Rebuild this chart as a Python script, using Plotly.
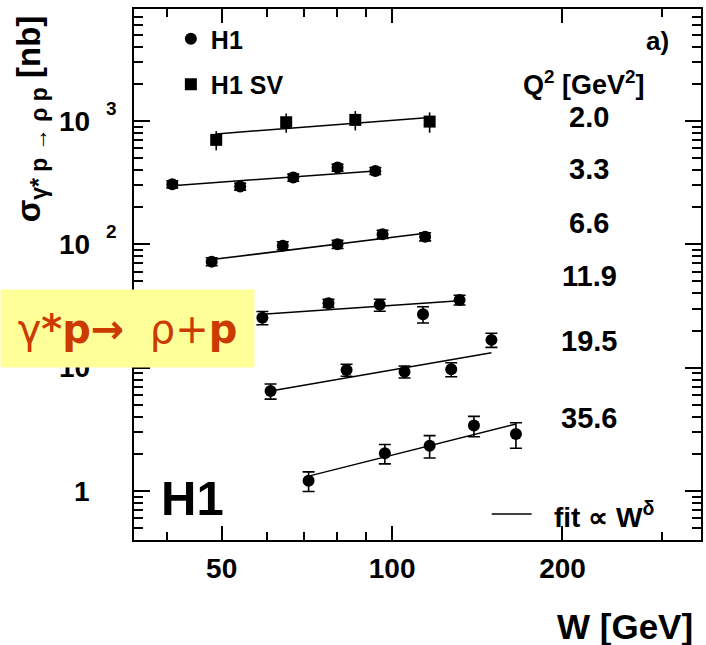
import math
import plotly.graph_objects as go

# Q^2 bins [GeV^2] and the labels printed next to each group
q2_labels = ["2.0", "3.3", "6.6", "11.9", "19.5", "35.6"]

# H1 SV, Q^2 = 2.0 GeV^2
w_sv = [48.9, 65.0, 86.1, 116.5]
sig_sv = [703, 977, 1021, 989]
err_sv = [125, 174, 182, 186]

# H1, Q^2 = 3.3 GeV^2
w_33 = [40.9, 53.9, 66.9, 80.1, 93.4]
sig_33 = [307, 294, 348, 419, 394]
err_33 = [20, 19, 23, 27, 26]

# H1, Q^2 = 6.6 GeV^2
w_66 = [48.0, 64.1, 80.1, 96.2, 114.4]
sig_66 = [72.4, 97.6, 100.1, 120.8, 115.4]
err_66 = [5.4, 7.3, 7.5, 9.1, 8.7]

# H1, Q^2 = 11.9 GeV^2
w_119 = [59.0, 77.2, 95.1, 113.4, 131.6]
sig_119 = [25.4, 33.3, 32.3, 27.1, 35.4]
err_119 = [3.1, 2.5, 3.6, 4.1, 3.2]

# H1, Q^2 = 19.5 GeV^2
w_195 = [61.0, 83.1, 105.2, 127.2, 149.8]
sig_195 = [6.47, 9.58, 9.28, 9.70, 16.8]
err_195 = [0.91, 1.07, 1.04, 1.27, 2.2]

# H1, Q^2 = 35.6 GeV^2
w_356 = [71.2, 97.1, 116.5, 139.5, 165.5]
sig_356 = [1.21, 2.02, 2.33, 3.39, 2.90]
err_356 = [0.22, 0.36, 0.48, 0.64, 0.68]

# fits sigma ~ W^delta: fitted value at the first and last W of each bin
fit_sv = [786, 1066]
fit_33 = [299, 394]
fit_66 = [75.2, 123]
fit_119 = [27.1, 34.8]
fit_195 = [6.47, 13.2]
fit_356 = [1.32, 3.49]

# axis ticks
x_tick_vals = [50, 100, 200]
x_tick_text = ["50", "100", "200"]
x_minor_vals = [40, 60, 70, 80, 90, 300]
y_tick_vals = [1, 10, 100, 1000]
y_tick_base = ["1", "10", "10", "10"]
y_tick_exp = ["", "", "2", "3"]

FONT = "Liberation Sans"
BOX_FONT = "DejaVu Sans"

# plot-area geometry in pixels (used to place the free text)
L, R, T, B = 134, 703, 9, 540


def px(x):
    return (x - L) / (R - L)


def py(y):
    return (B - y) / (B - T)


def bold(size):
    return dict(family=FONT, size=size, color="black", weight="bold")


fig = go.Figure()

h1_sets = [(w_33, sig_33, err_33, fit_33), (w_66, sig_66, err_66, fit_66),
           (w_119, sig_119, err_119, fit_119), (w_195, sig_195, err_195, fit_195),
           (w_356, sig_356, err_356, fit_356)]

# fit lines
for w, s, e, f in [(w_sv, sig_sv, err_sv, fit_sv)] + h1_sets:
    fig.add_trace(go.Scatter(
        x=[w[0], w[-1]], y=f, mode="lines",
        line=dict(color="black", width=1.5),
        showlegend=False, hoverinfo="skip"))

# H1 points
for i, (w, s, e, f) in enumerate(h1_sets):
    fig.add_trace(go.Scatter(
        x=w, y=s, mode="markers", name="H1",
        legendgroup="h1", showlegend=(i == 0), legendrank=1,
        marker=dict(symbol="circle", size=12, color="black"),
        error_y=dict(type="data", array=e, color="black", thickness=1.6, width=6)))

# H1 SV points
fig.add_trace(go.Scatter(
    x=w_sv, y=sig_sv, mode="markers", name="H1 SV",
    legendgroup="sv", legendrank=2,
    marker=dict(symbol="square", size=12, color="black"),
    error_y=dict(type="data", array=err_sv, color="black", thickness=1.6, width=0)))

y_minor = [m * 10 ** k for k in range(-1, 4) for m in range(2, 10)]

axis_common = dict(
    showline=True, linewidth=2, linecolor="black", mirror="allticks",
    showgrid=False, zeroline=False, ticks="inside", tickwidth=2, tickcolor="black",
)

fig.update_xaxes(
    type="log", range=[1.54405, 2.54573],
    tickmode="array", tickvals=x_tick_vals, ticktext=x_tick_text, ticklen=14,
    tickfont=bold(28), ticklabelstandoff=2,
    minor=dict(tickmode="array", tickvals=x_minor_vals, ticks="inside",
               ticklen=8, tickwidth=2, tickcolor="black", showgrid=False),
    **axis_common)

fig.update_yaxes(
    type="log", range=[-0.3973, 3.9081],
    tickmode="array", tickvals=y_tick_vals, ticklen=16, showticklabels=False,
    minor=dict(tickmode="array", tickvals=y_minor, ticks="inside",
               ticklen=9, tickwidth=2, tickcolor="black", showgrid=False),
    **axis_common)

ann = []

# y tick labels: base right-aligned, exponent hanging to the right
for v, b, e in zip(y_tick_vals, y_tick_base, y_tick_exp):
    ann.append(dict(xref="paper", yref="y", x=px(92), y=math.log10(v), text=b,
                    xanchor="right", yanchor="middle", showarrow=False, font=bold(28)))
    if e:
        ann.append(dict(xref="paper", yref="y", x=px(104), y=math.log10(v), text=e,
                        xanchor="left", yanchor="middle", yshift=13, showarrow=False,
                        font=bold(19)))

# Q^2 header and bin labels
ann.append(dict(xref="paper", yref="paper", x=px(586), y=py(83),
                text="Q<sup>2</sup> [GeV<sup>2</sup>]", showarrow=False,
                xanchor="center", yanchor="middle", font=bold(27)))
label_y = [117, 169, 223, 276, 341, 418]
for lab, yy in zip(q2_labels, label_y):
    ann.append(dict(xref="paper", yref="paper", x=px(591), y=py(yy), text=lab,
                    showarrow=False, xanchor="center", yanchor="middle", font=bold(29)))

ann.append(dict(xref="paper", yref="paper", x=px(673), y=py(41), text="a)",
                showarrow=False, xanchor="right", yanchor="middle", font=bold(26)))

# experiment logo
ann.append(dict(xref="paper", yref="paper", x=px(193), y=py(498), text="H1",
                showarrow=False, xanchor="center", yanchor="middle", font=bold(49)))

# fit key
ann.append(dict(xref="paper", yref="paper", x=px(553), y=py(515),
                text="fit \u221d W<sup>\u03b4</sup>", showarrow=False,
                xanchor="left", yanchor="middle", font=bold(28)))

# axis titles
ann.append(dict(xref="paper", yref="paper", x=px(697), y=py(626), text="W [GeV]",
                showarrow=False, xanchor="right", yanchor="middle", font=bold(35)))
ann.append(dict(xref="paper", yref="paper", x=px(31), y=py(119),
                text=("\u03c3<sub><span style='font-size:23px'>\u03b3* p \u2192 \u03c1 p"
                      "</span></sub> [nb]"),
                textangle=-90, showarrow=False, xanchor="center", yanchor="middle",
                font=bold(33)))

# process box
ann.append(dict(xref="paper", yref="paper", x=px(0), y=py(289), xanchor="left", yanchor="top",
                text="\u03b3<b>*p\u2192</b>  \u03c1+<b>p</b>", showarrow=False,
                width=253, height=77, borderpad=0, bgcolor="#FFFF99", align="center",
                valign="middle", font=dict(family=BOX_FONT, size=40, color="#CC3A00")))

fig.update_layout(
    width=706, height=645,
    margin=dict(l=L, r=706 - R, t=T, b=645 - B),
    paper_bgcolor="white", plot_bgcolor="white",
    font=dict(family=FONT, color="black"),
    annotations=ann,
    shapes=[dict(type="line", xref="paper", yref="paper",
                 x0=px(493), x1=px(533), y0=py(514), y1=py(514),
                 line=dict(color="black", width=1.6))],
    legend=dict(x=px(171), y=py(16), xanchor="left", yanchor="top",
                bgcolor="rgba(0,0,0,0)", traceorder="grouped", tracegroupgap=10,
                font=bold(25), itemsizing="trace"),
)

fig.write_html("out.html")
